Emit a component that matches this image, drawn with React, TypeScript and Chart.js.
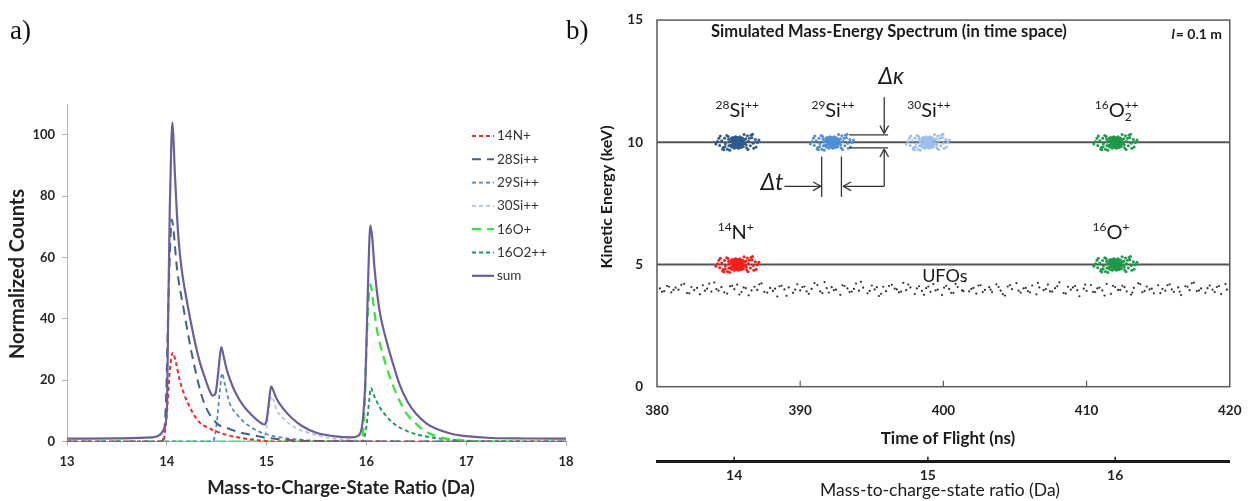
import React, { useEffect, useRef } from "react";
import { Chart, registerables } from "chart.js";
Chart.register(...registerables);

const SANS = "Lato, 'Open Sans', 'DejaVu Sans', sans-serif";
const SERIF = "'Liberation Serif', 'DejaVu Serif', serif";

// ---------------- Panel a) data ----------------
const countTicks = [0, 20, 40, 60, 80, 100];

const n14X = [13, 13.96, 14.0, 14.03, 14.06, 14.09, 14.13, 14.17, 14.25, 14.33, 14.42, 14.5, 14.6, 14.75, 14.9, 15.1, 18];
const n14Y = [0, 0, 9, 23, 29, 26, 20, 15.8, 10, 6.2, 4.5, 3.3, 2.2, 1.2, 0.5, 0, 0];

const si28X = [13, 13.95, 13.99, 14.02, 14.05, 14.07, 14.1, 14.17, 14.27, 14.37, 14.5, 14.6, 14.7, 14.85, 15.0, 15.2, 15.5, 18];
const si28Y = [0, 0, 12, 50, 72.4, 68, 57, 43, 25.6, 13, 6, 4.5, 3.3, 2.2, 1.3, 0.6, 0.2, 0];

const si29X = [13, 14.46, 14.5, 14.53, 14.555, 14.58, 14.63, 14.7, 14.77, 14.85, 14.93, 15.05, 15.2, 15.4, 15.6, 18];
const si29Y = [0, 0, 6, 16, 22.3, 19, 12.5, 9, 6.5, 4.6, 3.2, 2, 1.1, 0.5, 0.2, 0];

const si30X = [13, 14.97, 15.0, 15.03, 15.05, 15.07, 15.1, 15.17, 15.27, 15.34, 15.45, 15.67, 15.9, 16.2, 18];
const si30Y = [0, 0, 5, 12, 14.7, 13.5, 10.4, 7.5, 4.9, 3.8, 2.6, 1, 0.4, 0.1, 0];

const o16X = [13, 15.95, 15.98, 16.0, 16.02, 16.04, 16.07, 16.1, 16.17, 16.27, 16.4, 16.5, 16.57, 16.74, 16.9, 17.1, 18];
const o16Y = [0, 0, 10, 30, 45, 51.2, 45, 37.6, 27.8, 18, 9.3, 5.8, 3.8, 1.4, 0.6, 0.2, 0];

const o2X = [13, 15.96, 16.0, 16.03, 16.045, 16.07, 16.13, 16.2, 16.27, 16.37, 16.47, 16.6, 16.74, 16.9, 17.1, 18];
const o2Y = [0, 0, 5, 14, 17.5, 15.5, 11.4, 8.3, 6, 4, 2.7, 1.7, 1, 0.5, 0.2, 0];

const sumX = [13, 13.5, 13.85, 13.93, 13.97, 14.0, 14.015, 14.03, 14.045, 14.055, 14.065, 14.08, 14.1, 14.12, 14.15, 14.2, 14.27, 14.33, 14.38, 14.43, 14.46, 14.49, 14.52, 14.545, 14.565, 14.6, 14.65, 14.7, 14.77, 14.85, 14.93, 14.975, 15.0, 15.02, 15.045, 15.065, 15.1, 15.17, 15.25, 15.35, 15.5, 15.67, 15.85, 15.92, 15.96, 15.99, 16.015, 16.04, 16.06, 16.08, 16.13, 16.2, 16.27, 16.34, 16.42, 16.5, 16.6, 16.7, 16.85, 17.0, 17.25, 17.6, 18];
const sumY = [1, 1.1, 1.4, 2.2, 4, 10, 43, 76, 97, 104, 100, 88, 75, 65, 56, 46, 34.3, 26, 21, 16.5, 15, 16, 24, 30.8, 28.5, 23.5, 18.8, 15.2, 11.6, 8.7, 6.4, 5.6, 7, 12, 18, 16.8, 14, 10.6, 7.8, 5.2, 2.9, 1.8, 1.4, 2, 6, 20, 50, 70.5, 66, 57, 43, 33, 25, 18, 12.6, 9, 6, 4.2, 2.6, 1.8, 1.2, 1.05, 1];

const seriesNames = ["14N+", "28Si++", "29Si++", "30Si++", "16O+", "16O2++", "sum"];
const seriesX = [n14X, si28X, si29X, si30X, o16X, o2X, sumX];
const seriesY = [n14Y, si28Y, si29Y, si30Y, o16Y, o2Y, sumY];
const seriesColors = ["#ee2b2b", "#3f6289", "#4f82c2", "#a9c2e4", "#3ee23e", "#1a9a55", "#6b5e9b"];
const seriesDash = [[4, 3], [9, 6], [4, 3], [4, 3], [9, 6], [4, 3], []];
const seriesWidths = [2, 2, 1.7, 1.7, 2.3, 1.9, 2.2];

// ---------------- Panel b) data ----------------
const energyTicks = [0, 5, 10, 15];
const massTicks = [14, 15, 16];
const tofPerSqrtMass = 103.0; // ns per sqrt(Da) for l = 0.1 m

const clusterNames = ["28Si++", "29Si++", "30Si++", "16O2++", "14N+", "16O+"];
const clusterTof = [385.6, 392.2, 398.9, 412.0, 385.6, 412.0];
const clusterEnergy = [10, 10, 10, 10, 5, 5];
const clusterColors = ["#2e5a8c", "#4f8fd8", "#9dc0ea", "#1e9a48", "#ff1a1a", "#1e9a48"];

// hand-read spread of a cluster cloud: [dt (ns), dE (keV)]
const cloudOffsets = [
  [0.0, 0.01], [0.12, 0.06], [-0.09, -0.04], [0.21, -0.11], [-0.18, 0.09], [0.31, 0.03], [-0.27, -0.02], [0.06, 0.14],
  [-0.04, -0.16], [0.16, -0.19], [-0.14, 0.21], [0.41, 0.08], [-0.38, -0.11], [0.33, -0.16], [-0.36, 0.13], [0.24, 0.19],
  [-0.22, -0.2], [0.47, -0.06], [-0.46, 0.04], [0.09, -0.24], [-0.11, 0.23], [0.52, 0.11], [-0.49, -0.13], [0.19, 0.23],
  [-0.2, -0.24], [0.29, -0.21], [-0.31, 0.2], [0.56, -0.03], [-0.54, 0.01], [0.02, 0.2], [0.01, -0.21], [0.13, 0.11],
  [-0.12, -0.09], [0.23, 0.01], [-0.24, 0.02], [0.37, 0.18], [-0.39, -0.19], [0.43, -0.17], [-0.41, 0.17], [0.07, -0.12],
  [-0.07, 0.11], [0.27, 0.09], [-0.29, -0.08], [0.17, -0.05], [-0.16, 0.06], [0.34, -0.07], [-0.33, 0.08], [0.61, 0.14],
  [-0.58, -0.14], [0.63, -0.11], [-0.6, 0.12], [0.04, 0.05], [-0.02, -0.07], [0.11, -0.01], [-0.06, 0.03],
  [0.15, 0.16], [-0.17, -0.13], [0.26, -0.04], [-0.25, 0.12], [0.08, 0.02], [-0.1, 0.17], [0.2, -0.15], [-0.03, 0.08],
  [0.78, 0.04], [-0.82, -0.06], [0.92, -0.14], [-0.88, 0.16], [1.03, 0.19], [-0.97, -0.21], [1.12, -0.04], [-1.08, 0.06],
  [1.27, 0.11], [-1.22, -0.13], [1.41, -0.01], [-1.37, 0.03], [0.71, 0.27], [-0.68, -0.29], [0.76, -0.3], [-0.73, 0.28],
  [0.96, 0.29], [-0.93, -0.31], [1.16, -0.24], [-1.18, 0.26], [0.48, 0.32], [-0.52, -0.33], [0.86, 0.17], [-0.84, -0.18],
  [1.32, -0.19], [-1.28, 0.17], [1.52, 0.09], [-1.49, -0.07], [0.66, -0.23], [-0.63, 0.24], [1.07, 0.33], [-1.02, -0.27],
];

const ufoTofA = [380.2, 380.5, 380.7, 381.0, 381.3, 381.5, 381.9, 382.1, 382.4, 382.6, 383.0, 383.2, 383.5, 383.8, 384.0, 384.3, 384.5, 384.9, 385.1, 385.4, 385.6, 385.9, 386.2, 386.4, 386.8, 387.0, 387.3, 387.5, 387.9, 388.1, 388.4, 388.7, 388.9, 389.2, 389.5, 389.8, 390.0, 390.3, 390.6, 390.8, 391.2, 391.4, 391.7, 392.0, 392.2, 392.5, 392.8, 393.1, 393.3, 393.6, 393.9, 394.1, 394.4, 394.7, 395.0, 395.2, 395.5, 395.8, 396.0, 396.4, 396.6, 396.9, 397.2, 397.4, 397.7, 398.0, 398.3, 398.5, 398.8, 399.1, 399.3, 399.6, 399.9, 400.2, 400.4, 400.7, 401.0, 401.3, 401.5, 401.8, 402.1, 402.3, 402.6, 402.9, 403.2, 403.4, 403.7, 404.0, 404.3, 404.5, 404.8, 405.1, 405.4, 405.6, 405.9, 406.2, 406.5, 406.7, 407.0, 407.3, 407.6, 407.8, 408.1, 408.4, 408.7, 408.9, 409.2, 409.5, 409.8, 410.0, 410.3, 410.6, 410.9, 411.1, 411.4, 411.7, 412.0, 412.2, 412.5, 412.8, 413.1, 413.3, 413.6, 413.9, 414.2, 414.4, 414.7, 415.0, 415.3, 415.5, 415.8, 416.1, 416.4, 416.6, 416.9, 417.2, 417.5, 417.7, 418.0, 418.3, 418.6, 418.8, 419.1, 419.4, 419.7];
const ufoEnergyA = [4.02, 3.91, 4.12, 3.86, 4.05, 3.97, 4.21, 3.83, 4.08, 3.95, 3.78, 4.15, 4.01, 3.89, 4.26, 3.93, 4.07, 3.81, 4.11, 3.99, 4.18, 3.87, 4.03, 3.74, 4.09, 3.96, 4.23, 3.88, 4.04, 3.92, 3.69, 4.13, 3.98, 4.06, 3.84, 4.19, 3.94, 4.10, 3.80, 4.00, 4.16, 3.90, 4.28, 3.85, 4.07, 3.97, 3.76, 4.12, 4.02, 3.89, 4.22, 3.93, 4.05, 3.82, 4.14, 3.98, 3.71, 4.09, 3.91, 4.17, 4.01, 3.86, 4.25, 3.95, 4.06, 3.79, 4.11, 3.92, 4.03, 3.88, 4.20, 3.97, 3.75, 4.13, 4.00, 3.84, 4.08, 3.94, 4.31, 3.90, 4.04, 3.81, 4.15, 3.96, 4.07, 3.87, 4.19, 3.93, 3.73, 4.10, 3.99, 4.24, 3.85, 4.02, 3.91, 4.14, 3.78, 4.06, 3.95, 4.18, 3.89, 4.03, 4.27, 3.83, 4.09, 3.97, 4.12, 3.70, 4.01, 3.92, 4.16, 3.87, 4.05, 3.94, 4.21, 3.80, 4.08, 3.96, 4.13, 3.90, 3.77, 4.04, 4.23, 3.86, 4.10, 3.98, 3.82, 4.15, 4.00, 3.93, 4.19, 3.88, 4.06, 3.75, 4.11, 3.95, 4.26, 3.91, 4.02, 3.84, 4.14, 3.97, 4.08, 3.79, 4.20, 3.89, 4.03];
const ufoTofB = [380.35, 380.85, 381.15, 381.7, 382.25, 382.8, 383.35, 383.65, 384.15, 384.7, 385.25, 385.75, 386.05, 386.6, 387.15, 387.7, 388.25, 388.55, 389.05, 389.65, 390.15, 390.45, 391.0, 391.55, 391.85, 392.35, 392.95, 393.45, 393.75, 394.25, 394.85, 395.35, 395.65, 396.2, 396.75, 397.05, 397.55, 398.15, 398.65, 398.95, 399.45, 400.05, 400.55, 400.85, 401.4, 401.95, 402.45, 402.75, 403.3, 403.85, 404.15, 404.65, 405.25, 405.75, 406.05, 406.6, 407.15, 407.45, 407.95, 408.55, 409.05, 409.35, 409.9, 410.45, 410.75, 411.25, 411.85, 412.35, 412.65, 413.2, 413.75, 414.05, 414.55, 415.15, 415.65, 415.95, 416.5, 417.05, 417.35, 417.85, 418.45, 418.95, 419.25, 419.8];
const ufoEnergyB = [3.88, 4.09, 3.96, 4.17, 3.82, 4.04, 3.93, 4.22, 3.99, 3.86, 4.13, 3.77, 4.06, 3.94, 4.19, 3.85, 4.01, 4.11, 3.72, 3.97, 4.08, 3.90, 4.24, 3.83, 4.03, 3.95, 4.15, 3.87, 4.00, 4.29, 3.92, 4.07, 3.80, 4.12, 3.98, 3.89, 4.18, 4.02, 3.76, 4.10, 3.94, 4.05, 3.84, 4.21, 3.91, 4.00, 4.14, 3.87, 3.97, 4.08, 3.79, 4.16, 3.93, 4.04, 3.86, 4.25, 3.99, 3.90, 4.11, 3.81, 4.06, 3.95, 4.18, 3.88, 4.02, 3.73, 4.13, 3.96, 4.07, 3.85, 4.20, 3.92, 4.01, 3.83, 4.15, 3.98, 3.89, 4.09, 4.23, 3.94, 4.03, 3.87, 4.12, 3.97];

// ion labels (anchor in data units: tof, energy of text baseline)
const ionLabels = [
  { pre: "28", main: "Si", sub: "", sup: "++", t: 385.6, e: 11.02 },
  { pre: "29", main: "Si", sub: "", sup: "++", t: 392.3, e: 11.02 },
  { pre: "30", main: "Si", sub: "", sup: "++", t: 399.0, e: 11.02 },
  { pre: "16", main: "O", sub: "2", sup: "++", t: 412.1, e: 11.02 },
  { pre: "14", main: "N", sub: "", sup: "+", t: 385.5, e: 6.03 },
  { pre: "16", main: "O", sub: "", sup: "+", t: 411.7, e: 6.03 },
];

// annotation arrows & bars (data units)
const arrowSegs = [
  [395.87, 11.84, 395.87, 10.36],
  [395.87, 8.2, 395.87, 9.72],
  [395.87, 8.2, 393.0, 8.2],
  [388.9, 8.2, 391.45, 8.2],
];
const plainSegs = [
  [393.42, 10.3, 396.14, 10.3],
  [393.42, 9.77, 396.14, 9.77],
  [391.5, 9.42, 391.5, 7.77],
  [392.88, 9.42, 392.88, 7.77],
];

const zip = (xs: number[], ys: number[]) =>
  xs.slice(0, Math.min(xs.length, ys.length)).map((x, i) => ({ x, y: ys[i] }));

function LeftChart() {
  const ref = useRef<HTMLCanvasElement>(null);
  useEffect(() => {
    const datasets = seriesNames.map((name, i) => ({
      label: name,
      data: zip(seriesX[i], seriesY[i]),
      showLine: true,
      borderColor: seriesColors[i],
      borderWidth: seriesWidths[i],
      borderDash: seriesDash[i],
      pointRadius: 0,
      cubicInterpolationMode: "monotone" as const,
      order: name === "sum" ? -1 : 0,
    }));
    const overlay = {
      id: "overlayA",
      afterDraw(chart: any) {
        const ctx = chart.ctx as CanvasRenderingContext2D;
        ctx.save();
        chart.data.datasets.forEach((ds: any, i: number) => {
          const y = 136 + i * 23.3;
          ctx.strokeStyle = ds.borderColor;
          ctx.lineWidth = ds.borderWidth;
          ctx.setLineDash(ds.borderDash || []);
          ctx.beginPath();
          ctx.moveTo(472, y);
          ctx.lineTo(494, y);
          ctx.stroke();
          ctx.setLineDash([]);
          ctx.fillStyle = "#333";
          ctx.font = `13.5px ${SANS}`;
          ctx.textBaseline = "middle";
          ctx.textAlign = "left";
          ctx.fillText(ds.label, 497, y);
        });
        ctx.fillStyle = "#222";
        ctx.font = `bold 18.5px ${SANS}`;
        ctx.textAlign = "center";
        ctx.textBaseline = "middle";
        ctx.fillText("Mass-to-Charge-State Ratio (Da)", 341, 488);
        ctx.font = `bold 20px ${SANS}`;
        ctx.translate(18, 274);
        ctx.rotate(-Math.PI / 2);
        ctx.fillText("Normalized Counts", 0, 0);
        ctx.restore();
      },
    };
    const chart = new Chart(ref.current!, {
      type: "scatter",
      data: { datasets } as any,
      options: {
        animation: false,
        responsive: false,
        maintainAspectRatio: false,
        layout: { padding: { top: 104, right: 24, left: 0, bottom: 0 } },
        plugins: { legend: { display: false }, tooltip: { enabled: false } },
        scales: {
          x: {
            type: "linear",
            min: 13,
            max: 18,
            ticks: { stepSize: 1, color: "#262626", padding: 8, font: { family: SANS, size: 13, weight: "bold" } },
            grid: { drawOnChartArea: false, drawTicks: true, tickLength: 4, color: "#b5b5b5" },
            border: { color: "#b5b5b5", width: 1 },
            afterFit: (s: any) => { s.height = 59.3; },
          },
          y: {
            type: "linear",
            min: 0,
            max: 110,
            afterBuildTicks: (s: any) => { s.ticks = countTicks.map((v) => ({ value: v })); },
            ticks: { color: "#262626", padding: 7, font: { family: SANS, size: 13, weight: "bold" } },
            grid: { drawOnChartArea: false, drawTicks: true, tickLength: 5, color: "#b5b5b5" },
            border: { color: "#b5b5b5", width: 1 },
            afterFit: (s: any) => { s.width = 67; },
          },
        },
      } as any,
      plugins: [overlay],
    });
    return () => chart.destroy();
  }, []);
  return <canvas ref={ref} width={590} height={501} style={{ position: "absolute", left: 0, top: 0, width: 590, height: 501 }} />;
}

function RightChart() {
  const ref = useRef<HTMLCanvasElement>(null);
  useEffect(() => {
    const clusterSets = clusterNames.map((name, i) => ({
      label: name,
      data: cloudOffsets.map(([dt, de]) => ({ x: clusterTof[i] + dt, y: clusterEnergy[i] + de })),
      pointRadius: 1.5,
      pointBorderWidth: 0,
      pointBackgroundColor: clusterColors[i],
      showLine: false,
    }));
    const ufoSets = [zip(ufoTofA, ufoEnergyA), zip(ufoTofB, ufoEnergyB)].map((d) => ({
      label: "UFOs",
      data: d,
      pointRadius: 1.1,
      pointBorderWidth: 0,
      pointBackgroundColor: "#303030",
      showLine: false,
    }));
    const levelSets = [10, 5].map((e) => ({
      label: "level",
      data: [{ x: 380, y: e }, { x: 420, y: e }],
      showLine: true,
      borderColor: "#555555",
      borderWidth: 2,
      pointRadius: 0,
    }));
    const overlay = {
      id: "overlayB",
      afterDraw(chart: any) {
        const ctx = chart.ctx as CanvasRenderingContext2D;
        const a = chart.chartArea;
        const sx = chart.scales.x, sy = chart.scales.y, s2 = chart.scales.x2;
        const px = (t: number) => sx.getPixelForValue(t);
        const py = (e: number) => sy.getPixelForValue(e);
        ctx.save();
        // frame
        ctx.strokeStyle = "#5a5a5a";
        ctx.lineWidth = 1.5;
        ctx.strokeRect(a.left, a.top, a.right - a.left, a.bottom - a.top);
        // inner ticks on time axis
        ctx.lineWidth = 1.2;
        sx.ticks.forEach((t: any) => {
          const x = px(t.value);
          if (x <= a.left + 1 || x >= a.right - 1) return;
          ctx.beginPath();
          ctx.moveTo(x, a.bottom);
          ctx.lineTo(x, a.bottom - 6);
          ctx.stroke();
        });
        // ticks on mass axis
        ctx.strokeStyle = "#1a1a1a";
        ctx.lineWidth = 1.5;
        s2.ticks.forEach((t: any) => {
          const x = s2.getPixelForValue(t.value);
          ctx.beginPath();
          ctx.moveTo(x, s2.top);
          ctx.lineTo(x, s2.top - 5);
          ctx.stroke();
        });
        // annotations
        ctx.strokeStyle = "#333";
        ctx.lineWidth = 1.3;
        const seg = (x1: number, y1: number, x2: number, y2: number) => {
          ctx.beginPath();
          ctx.moveTo(x1, y1);
          ctx.lineTo(x2, y2);
          ctx.stroke();
        };
        plainSegs.forEach(([t1, e1, t2, e2]) => seg(px(t1), py(e1), px(t2), py(e2)));
        arrowSegs.forEach(([t1, e1, t2, e2]) => {
          const x1 = px(t1), y1 = py(e1), x2 = px(t2), y2 = py(e2);
          seg(x1, y1, x2, y2);
          const ang = Math.atan2(y2 - y1, x2 - x1);
          const L = 9, w = 0.5;
          seg(x2, y2, x2 - L * Math.cos(ang - w), y2 - L * Math.sin(ang - w));
          seg(x2, y2, x2 - L * Math.cos(ang + w), y2 - L * Math.sin(ang + w));
        });
        // ion labels
        ctx.fillStyle = "#1a1a1a";
        ctx.textBaseline = "alphabetic";
        ctx.textAlign = "left";
        const big = `20px ${SANS}`, small = `12px ${SANS}`;
        ionLabels.forEach((lb) => {
          ctx.font = small;
          const wPre = ctx.measureText(lb.pre).width;
          const wSub = lb.sub ? ctx.measureText(lb.sub).width : 0;
          const wSup = ctx.measureText(lb.sup).width;
          ctx.font = big;
          const wMain = ctx.measureText(lb.main).width;
          const total = wPre + wMain + Math.max(wSub, wSup);
          const x0 = px(lb.t) - total / 2;
          const yb = py(lb.e);
          ctx.font = big;
          ctx.fillText(lb.main, x0 + wPre, yb);
          ctx.font = small;
          ctx.fillText(lb.pre, x0, yb - 8);
          ctx.fillText(lb.sup, x0 + wPre + wMain, yb - 8);
          if (lb.sub) ctx.fillText(lb.sub, x0 + wPre + wMain, yb + 4);
        });
        // texts
        ctx.textAlign = "center";
        ctx.textBaseline = "middle";
        ctx.font = `18px ${SANS}`;
        ctx.fillText("UFOs", px(400.1), py(4.54));
        ctx.font = `italic 23px ${SANS}`;
        ctx.fillText("Δκ", 301, 77);
        ctx.fillText("Δt", 182, 183);
        ctx.font = `bold 16.5px ${SANS}`;
        ctx.fillText("Simulated Mass-Energy Spectrum (in time space)", 299, 32);
        ctx.textAlign = "right";
        ctx.font = `bold 14px ${SANS}`;
        const rest = "= 0.1 m";
        ctx.fillText(rest, 632, 34);
        const wr = ctx.measureText(rest).width;
        ctx.font = `italic bold 14px ${SANS}`;
        ctx.fillText("l", 632 - wr - 1, 34);
        ctx.textAlign = "center";
        ctx.font = `bold 17px ${SANS}`;
        ctx.fillText("Time of Flight (ns)", 358, 439);
        ctx.font = `17.5px ${SANS}`;
        ctx.fillText("Mass-to-charge-state ratio (Da)", 350, 490);
        ctx.translate(17, 197);
        ctx.rotate(-Math.PI / 2);
        ctx.font = `bold 16px ${SANS}`;
        ctx.fillText("Kinetic Energy (keV)", 0, 0);
        ctx.restore();
      },
    };
    const chart = new Chart(ref.current!, {
      type: "scatter",
      data: { datasets: [...clusterSets, ...ufoSets, ...levelSets] } as any,
      options: {
        animation: false,
        responsive: false,
        maintainAspectRatio: false,
        layout: { padding: { top: 6, right: 16, left: 0, bottom: 0 } },
        plugins: { legend: { display: false }, tooltip: { enabled: false } },
        scales: {
          x: {
            type: "linear",
            position: "bottom",
            weight: 0,
            min: 380,
            max: 420,
            ticks: { stepSize: 10, color: "#1f1f1f", padding: 15.5, font: { family: SANS, size: 13.5, weight: "bold" } },
            grid: { drawOnChartArea: false, drawTicks: false },
            border: { display: false },
            afterFit: (s: any) => { s.height = 75; },
          },
          x2: {
            type: "linear",
            axis: "x",
            position: "bottom",
            weight: 1,
            min: 380,
            max: 420,
            afterBuildTicks: (s: any) => { s.ticks = massTicks.map((m) => ({ value: tofPerSqrtMass * Math.sqrt(m) })); },
            ticks: {
              autoSkip: false,
              color: "#1f1f1f",
              padding: 5,
              font: { family: SANS, size: 14, weight: "bold" },
              callback: (_v: any, i: number) => String(massTicks[i]),
            },
            grid: { drawOnChartArea: false, drawTicks: false },
            border: { display: true, color: "#1a1a1a", width: 3 },
            afterFit: (s: any) => { s.height = 39.3; },
          },
          y: {
            type: "linear",
            min: 0,
            max: 15,
            afterBuildTicks: (s: any) => { s.ticks = energyTicks.map((v) => ({ value: v })); },
            ticks: { color: "#1f1f1f", padding: 14, font: { family: SANS, size: 13.5, weight: "bold", lineHeight: 0.9 } },
            grid: { drawOnChartArea: false, drawTicks: false },
            border: { display: false },
            afterFit: (s: any) => { s.width = 67; },
          },
        },
      } as any,
      plugins: [overlay],
    });
    return () => chart.destroy();
  }, []);
  return <canvas ref={ref} width={667} height={501} style={{ position: "absolute", left: 590, top: 0, width: 667, height: 501 }} />;
}

export default function App() {
  const lab: React.CSSProperties = { position: "absolute", fontFamily: SERIF, fontSize: 27, lineHeight: "27px", color: "#111" };
  return (
    <div style={{ position: "absolute", left: 0, top: 0, width: 1257, height: 501, background: "#fff", overflow: "hidden" }}>
      <LeftChart />
      <RightChart />
      <div style={{ ...lab, left: 10, top: 17 }}>a)</div>
      <div style={{ ...lab, left: 566, top: 17 }}>b)</div>
    </div>
  );
}
